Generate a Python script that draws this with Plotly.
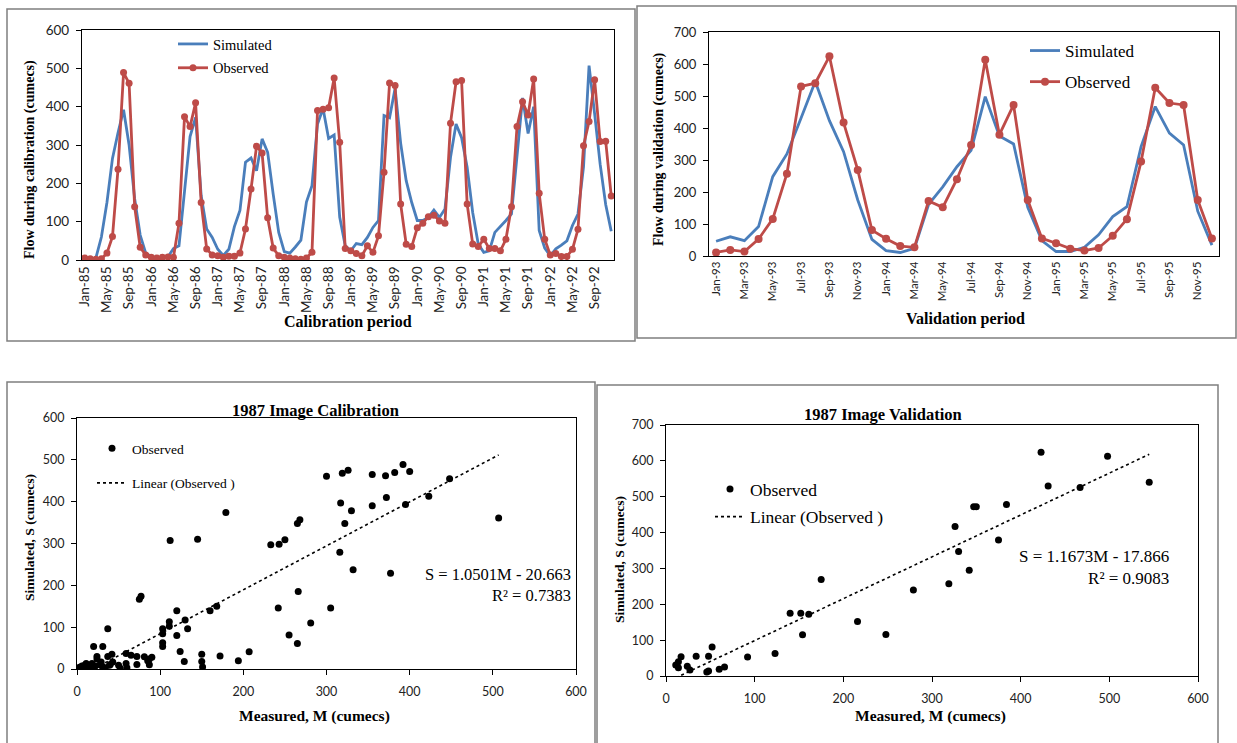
import numpy as np
import pandas as pd
import plotly.graph_objects as go

W, H = 1237, 743

# ---------------- data ----------------
cal_months = pd.date_range("1985-01-01", periods=96, freq="MS").strftime("%b-%y").tolist()
val_months = pd.date_range("1993-01-01", periods=36, freq="MS").strftime("%b-%y").tolist()
cal_ticks = cal_months[::4]
val_ticks = val_months[::2]

cal_observed = [5, 3, 2, 3, 18, 61, 237, 489, 461, 139, 33, 13,
                7, 5, 7, 8, 7, 96, 374, 348, 410, 150, 29, 13,
                11, 7, 10, 10, 18, 81, 185, 297, 279, 110, 31, 11,
                7, 5, 3, 2, 5, 20, 390, 393, 397, 475, 307, 30,
                24, 17, 11, 37, 20, 63, 229, 462, 455, 146, 41, 35,
                84, 96, 113, 117, 102, 96, 357, 465, 468, 146, 42, 35,
                54, 30, 30, 24, 54, 139, 348, 413, 378, 472, 174, 54,
                13, 17, 9, 9, 28, 80, 298, 361, 470, 309, 310, 167]
cal_simulated = [4, 2, 5, 60, 150, 265, 332, 392, 300, 160, 65, 18,
                 9, 6, 6, 8, 30, 37, 179, 322, 372, 168, 81, 59,
                 28, 12, 28, 87, 129, 255, 266, 233, 316, 281, 172, 72,
                 22, 18, 34, 52, 151, 194, 355, 395, 317, 326, 112, 37,
                 24, 43, 40, 59, 85, 103, 377, 371, 448, 305, 207, 150,
                 103, 103, 111, 130, 111, 133, 268, 355, 319, 242, 124, 42,
                 20, 24, 72, 87, 103, 120, 265, 423, 330, 400, 77, 31,
                 11, 29, 39, 50, 90, 120, 243, 507, 382, 250, 145, 75]

val_observed = [11, 19, 14, 53, 116, 257, 530, 540, 624, 417, 269, 81,
                54, 31, 27, 172, 152, 240, 347, 613, 379, 472, 175, 55,
                40, 23, 17, 25, 63, 115, 295, 526, 478, 472, 175, 55]
val_simulated = [46, 60, 48, 92, 248, 319, 431, 545, 423, 326, 175, 52,
                 17, 11, 24, 161, 216, 279, 330, 498, 375, 350, 152, 48,
                 14, 14, 27, 66, 123, 154, 342, 467, 384, 347, 140, 34]

cal_fit = {"slope": 1.0501, "intercept": -20.663, "r2": 0.7383}
val_fit = {"slope": 1.1673, "intercept": -17.866, "r2": 0.9083}

# ---------------- style ----------------
BLUE = "#4A7EBB"
RED = "#BE4B48"
SANS = "Lato"
SERIF = "Liberation Serif"


def dx(a, b):
    return [a / W, b / W]


def dy(top, bottom):
    return [1 - bottom / H, 1 - top / H]


def px(x):
    return x / W


def py(y):
    return 1 - y / H


def axis_common(size):
    return dict(showline=True, linecolor="black", linewidth=1.2, mirror=True,
                showgrid=False, zeroline=False, automargin=False,
                tickfont=dict(family=SANS, size=size, color="#222222"))


fig = go.Figure()

# --- calibration time series ---
fig.add_trace(go.Scatter(x=cal_months, y=cal_simulated, name="Simulated", mode="lines",
                         line=dict(color=BLUE, width=2.8), xaxis="x", yaxis="y",
                         legend="legend", legendgroup="a"))
fig.add_trace(go.Scatter(x=cal_months, y=cal_observed, name="Observed", mode="lines+markers",
                         line=dict(color=RED, width=2.8), marker=dict(size=7, color=RED),
                         xaxis="x", yaxis="y", legend="legend", legendgroup="b"))

# --- validation time series ---
fig.add_trace(go.Scatter(x=val_months, y=val_simulated, name="Simulated", mode="lines",
                         line=dict(color=BLUE, width=2.8), xaxis="x2", yaxis="y2",
                         legend="legend2", legendgroup="c"))
fig.add_trace(go.Scatter(x=val_months, y=val_observed, name="Observed", mode="lines+markers",
                         line=dict(color=RED, width=2.8), marker=dict(size=8, color=RED),
                         xaxis="x2", yaxis="y2", legend="legend2", legendgroup="d"))

# --- calibration scatter ---
fig.add_trace(go.Scatter(x=cal_simulated, y=cal_observed, name="Observed", mode="markers",
                         marker=dict(size=7, color="black"), xaxis="x3", yaxis="y3",
                         legend="legend3", legendgroup="e"))
cx = np.array([min(cal_simulated), max(cal_simulated)], dtype=float)
fig.add_trace(go.Scatter(x=cx, y=cal_fit["slope"] * cx + cal_fit["intercept"],
                         name="Linear (Observed )", mode="lines",
                         line=dict(color="black", width=1.6, dash="dot"),
                         xaxis="x3", yaxis="y3", legend="legend3", legendgroup="f"))

# --- validation scatter ---
fig.add_trace(go.Scatter(x=val_simulated, y=val_observed, name="Observed", mode="markers",
                         marker=dict(size=7, color="black"), xaxis="x4", yaxis="y4",
                         legend="legend4", legendgroup="g"))
vx = np.array([min(val_simulated), max(val_simulated)], dtype=float)
fig.add_trace(go.Scatter(x=vx, y=val_fit["slope"] * vx + val_fit["intercept"],
                         name="Linear (Observed )", mode="lines",
                         line=dict(color="black", width=1.6, dash="dot"),
                         xaxis="x4", yaxis="y4", legend="legend4", legendgroup="h"))

layout = dict(
    template="none",
    width=W, height=H, margin=dict(l=0, r=0, t=0, b=0, pad=0, autoexpand=False),
    paper_bgcolor="white", plot_bgcolor="white",
    xaxis=dict(axis_common(13.5), domain=dx(82, 614), anchor="y", type="category",
               categoryorder="array", categoryarray=cal_months,
               tickmode="array", tickvals=cal_ticks, ticktext=cal_ticks,
               tickangle=-90, range=[-0.5, 95.5], ticks=""),
    yaxis=dict(axis_common(13.5), domain=dy(30, 260), anchor="x", range=[0, 600], dtick=100,
               ticks="outside", ticklen=5, tickcolor="black", ticklabelstandoff=4),
    xaxis2=dict(axis_common(11.5), domain=dx(709, 1219), anchor="y2", type="category",
                categoryorder="array", categoryarray=val_months,
                tickmode="array", tickvals=val_ticks, ticktext=val_ticks,
                tickangle=-90, range=[-0.5, 35.5], ticks=""),
    yaxis2=dict(axis_common(13), domain=dy(32, 256), anchor="x2", range=[0, 700], dtick=100,
                ticks="outside", ticklen=5, tickcolor="black", ticklabelstandoff=4),
    xaxis3=dict(axis_common(12.5), domain=dx(77, 576), anchor="y3", range=[0, 600], dtick=100,
                ticks="outside", ticklen=5, tickcolor="black", ticklabelstandoff=6),
    yaxis3=dict(axis_common(12.5), domain=dy(418, 669), anchor="x3", range=[0, 600], dtick=100,
                ticks="outside", ticklen=5, tickcolor="black", ticklabelstandoff=4),
    xaxis4=dict(axis_common(12.5), domain=dx(666, 1198), anchor="y4", range=[0, 600], dtick=100,
                ticks="outside", ticklen=5, tickcolor="black", ticklabelstandoff=6),
    yaxis4=dict(axis_common(12.5), domain=dy(425, 676), anchor="x4", range=[0, 700], dtick=100,
                ticks="outside", ticklen=5, tickcolor="black", ticklabelstandoff=4),
    legend=dict(x=px(173), y=py(28), xanchor="left", yanchor="top", bgcolor="rgba(0,0,0,0)",
                font=dict(family=SERIF, size=14.5, color="black"), tracegroupgap=2,
                itemwidth=30, borderwidth=0),
    legend2=dict(x=px(1025), y=py(33), xanchor="left", yanchor="top", bgcolor="rgba(0,0,0,0)",
                 font=dict(family=SERIF, size=17, color="black"), tracegroupgap=6,
                 itemwidth=30, borderwidth=0),
    legend3=dict(x=px(92), y=py(433), xanchor="left", yanchor="top", bgcolor="rgba(0,0,0,0)",
                 font=dict(family=SERIF, size=13.5, color="black"), tracegroupgap=14,
                 itemwidth=30, borderwidth=0),
    legend4=dict(x=px(710), y=py(471), xanchor="left", yanchor="top", bgcolor="rgba(0,0,0,0)",
                 font=dict(family=SERIF, size=17.5, color="black"), tracegroupgap=2,
                 itemwidth=30, borderwidth=0),
    showlegend=True,
)
fig.update_layout(layout)

# frames around each panel
frames = [(7, 9, 635, 341), (637, 6, 1236, 338), (7, 382, 595, 745), (597, 385, 1218, 745)]
for (x0, y0, x1, y1) in frames:
    fig.add_shape(type="rect", xref="paper", yref="paper",
                  x0=px(x0), x1=px(x1), y0=py(y1), y1=py(y0),
                  line=dict(color="#7F7F7F", width=1.5), fillcolor="rgba(0,0,0,0)", layer="below")


def ann(text, x, y, size, rot=0, bold=True, xanchor="center", **kw):
    t = f"<b>{text}</b>" if bold else text
    fig.add_annotation(text=t, x=px(x), y=py(y), xref="paper", yref="paper",
                       showarrow=False, textangle=rot, xanchor=xanchor, yanchor="middle",
                       font=dict(family=SERIF, size=size, color="black"), **kw)


ann("Flow during calibration (cumecs)", 30, 160, 14, rot=-90)
ann("Calibration period", 348, 322, 16)
ann("Flow during validation (cumecs)", 659, 149, 14, rot=-90)
ann("Validation period", 965, 319, 16)

ann("1987 Image Calibration", 315, 410, 16.5)
ann("Simulated, S (cumecs)", 29, 538, 13.5, rot=-90)
ann("Measured, M (cumecs)", 314, 716, 15.5)
ann("1987 Image Validation", 883, 414, 16.5)
ann("Simulated, S (cumecs)", 619, 560, 13.5, rot=-90)
ann("Measured, M (cumecs)", 930, 716, 15.5)

ann(f"S = {cal_fit['slope']:.4f}M - {abs(cal_fit['intercept']):.3f}<br>R² = {cal_fit['r2']:.4f}",
    573, 585, 16.5, bold=False, xanchor="right", align="right")
ann(f"S = {val_fit['slope']:.4f}M - {abs(val_fit['intercept']):.3f}<br>R² = {val_fit['r2']:.4f}",
    1171, 567, 17, bold=False, xanchor="right", align="right")

fig.write_html("out.html", config={"displayModeBar": False},
               post_script="document.body.style.margin='0px';")
